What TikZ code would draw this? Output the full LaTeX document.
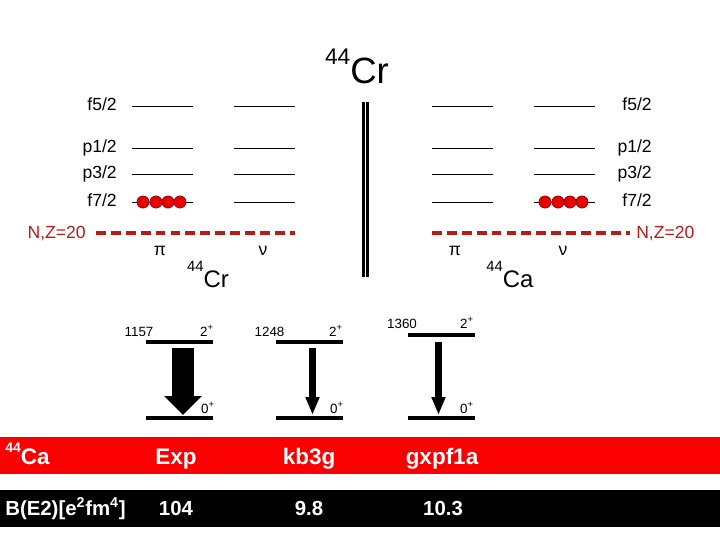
\documentclass[tikz,border=0pt]{standalone}
\usepackage{fontspec}
\setmainfont{Liberation Sans}
\usetikzlibrary{arrows.meta, positioning}
\definecolor{magic}{RGB}{185,25,25}
\definecolor{nucleon}{RGB}{235,0,0}
\definecolor{band}{RGB}{250,0,0}
\newcommand{\massA}[1]{\raisebox{0.5em}{\scalebox{0.62}{#1}}}
\newcommand{\massB}[1]{\raisebox{0.65em}{\scalebox{0.62}{#1}}}

\begin{document}
\begin{tikzpicture}[x=0.025cm, y=-0.025cm,
  orb/.style={line width=0.7pt},
  orblab/.style={font=\fontsize{12.5}{14}\selectfont, inner sep=0pt},
  gap/.style={magic, line width=2.2pt, dash pattern=on 7pt off 3.6pt},
  ball/.style={circle, draw=nucleon!55!black, fill=nucleon, line width=0.5pt, minimum size=8.6pt, inner sep=0pt},
  bar/.style={line width=2.2pt},
  be2/.style={-{Triangle[width=26pt, length=13.5pt]}, line width=15pt},
  be2thin/.style={-{Triangle[width=9.2pt, length=12.8pt]}, line width=5pt},
  small/.style={font=\fontsize{9.5}{10}\selectfont, inner sep=0pt},
  bandtxt/.style={white, font=\bfseries\fontsize{16}{18}\selectfont, inner sep=0pt},
  valtxt/.style={white, font=\bfseries\fontsize{14.5}{16}\selectfont, inner sep=0pt}]
  \useasboundingbox (0,0) rectangle (720,540);
  % shell model orbits, both nuclei
  \foreach \y/\l/\j in {106/f/5, 148/p/1, 174/p/3, 202/f/7}{
    \foreach \x in {132,234,432,534} \draw[orb] (\x,\y) -- ++(61,0);
    \node[orblab, anchor=base east] (\l\j L) at (117,\y+4.5) {\l\j/2};
    \node[orblab, anchor=base east] (\l\j R) at (652,\y+4.5) {\l\j/2};
  }
  \foreach \x [count=\i] in {143,156,168,180} \node[ball] (pi\i) at (\x,202) {};
  \foreach \x [count=\i] in {545,558,570,582} \node[ball] (nu\i) at (\x,202) {};
  \node[orblab, magic, anchor=base east] (nzL) at (86,238) {N,Z=20};
  \node[orblab, magic, anchor=base west] (nzR) at (636,238) {N,Z=20};
  \draw[gap] (96,233) -- (295,233);
  \draw[gap] (432,233) -- (630,233);
  \node[orblab, anchor=base] (piL) at (160,255) {π}; \node[orblab, anchor=base] (nuL) at (263,255) {ν};
  \node[orblab, anchor=base] (piR) at (455,255) {π}; \node[orblab, anchor=base] (nuR) at (563,255) {ν};
  \node[anchor=base, font=\fontsize{17}{20}\selectfont, inner sep=0pt] (cr) at (208,287) {\massB{44}Cr};
  \node[anchor=base, font=\fontsize{17}{20}\selectfont, inner sep=0pt] (ca) at (510,287) {\massB{44}Ca};
  \node[anchor=base, font=\fontsize{26}{30}\selectfont, inner sep=0pt] (title) at (357,83) {\massA{44}Cr};
  \draw[line width=2pt] (363.5,102) -- (363.5,277);
  \draw[line width=2pt] (367.8,102) -- (367.8,277);
  % 2+ -> 0+ transitions
  \foreach \n/\xl/\yu in {a/146/342, b/276/342, c/408/335}{
    \coordinate (up\n) at (\xl,\yu); \coordinate (gs\n) at (\xl,418);
    \draw[bar] (up\n) -- ++(67,0);
    \draw[bar] (gs\n) -- ++(67,0);
  }
  \foreach \n/\x/\ys/\s in {a/183/348/be2, b/312.5/348/be2thin, c/438.5/342/be2thin}{
    \coordinate (from\n) at (\x,\ys); \coordinate (to\n) at (\x,415);
    \draw[\s] (from\n) -- (to\n);
  }
  \node[small, anchor=base] (ea) at (139,336) {1157}; \node[small, anchor=base] (ja) at (207,336) {2\textsuperscript{+}};
  \node[small, anchor=base] (eb) at (269.5,336) {1248}; \node[small, anchor=base] (jb) at (336,336) {2\textsuperscript{+}};
  \node[small, anchor=base] (ec) at (402,328) {1360}; \node[small, anchor=base] (jc) at (467,328) {2\textsuperscript{+}};
  \foreach \n/\x in {a/208, b/337, c/467} \node[small, anchor=base] (g\n) at (\x,413) {0\textsuperscript{+}};
  % table rows
  \fill[band] (0,437) rectangle (720,474);
  \fill[black] (0,490) rectangle (720,527);
  \node[bandtxt, anchor=base west] (nucl) at (5,464) {\massA{44}Ca};
  \node[bandtxt, anchor=base] (exp) at (176,464) {Exp};
  \node[bandtxt, anchor=base] (kb) at (309,464) {kb3g};
  \node[bandtxt, anchor=base] (gx) at (442,464) {gxpf1a};
  \node[valtxt, anchor=base west] (be) at (5,515) {B(E2)[e\textsuperscript{2}fm\textsuperscript{4}]};
  \node[valtxt, anchor=base] (v1) at (176,515) {104};
  \node[valtxt, anchor=base] (v2) at (309,515) {9.8};
  \node[valtxt, anchor=base] (v3) at (443,515) {10.3};
\end{tikzpicture}
\end{document}
